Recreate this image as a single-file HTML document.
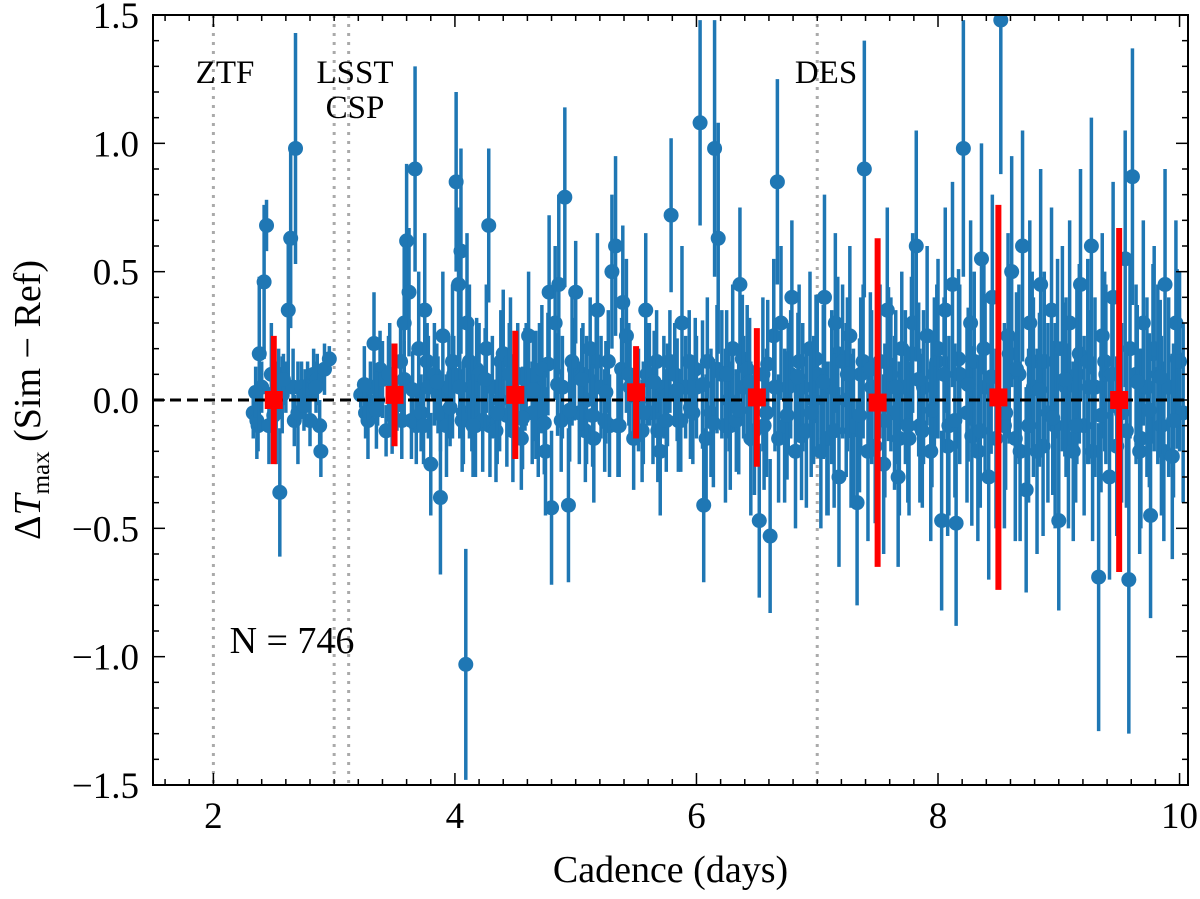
<!DOCTYPE html>
<html><head><meta charset="utf-8"><style>
body{margin:0;background:#fff;}
svg{display:block;font-family:"Liberation Serif",serif;}
</style></head><body>
<svg id="chart" width="1200" height="899"></svg>
<script>
const cadence=[2.33,2.36,2.38,2.40,2.42,2.44,2.46,2.48,2.52,2.55,2.57,2.60,2.62,2.64,2.66,2.68,2.70,2.73,2.76,2.80,2.83,2.86,2.89,2.92,2.96,
3.22,3.26,3.30,3.33,3.36,3.40,3.43,3.46,3.52,3.55,3.58,3.60,3.62,3.64,3.67,3.70,3.72,3.75,3.78,3.80,3.83,3.86,3.88,3.90,3.93,3.95,3.98,
4.01,4.03,4.05,4.07,4.09,4.10,4.12,4.14,4.17,4.20,4.23,4.26,4.28,4.31,4.34,4.37,4.40,4.43,4.46,4.52,4.55,4.58,4.61,4.64,4.67,4.70,4.72,4.75,4.78,4.80,4.83,4.86,4.89,4.91,4.94,4.97,
5.00,5.03,5.06,5.09,5.12,5.15,5.18,5.21,5.24,5.27,5.30,5.33,5.36,5.39,5.42,5.45,5.52,5.55,5.58,5.61,5.64,5.67,5.70,5.73,5.76,5.79,5.82,5.85,5.88,5.91,5.94,5.97,
6.00,6.03,6.06,6.09,6.12,6.15,6.18,6.21,6.24,6.27,6.30,6.33,6.36,6.39,6.42,6.45,6.52,6.55,6.58,6.61,6.64,6.67,6.70,6.73,6.76,6.79,6.82,6.85,6.88,6.91,6.94,6.97,
7.00,7.03,7.06,7.09,7.12,7.15,7.18,7.21,7.24,7.27,7.30,7.33,7.36,7.39,7.42,7.45,7.52,7.55,7.58,7.61,7.64,7.67,7.70,7.73,7.76,7.79,7.82,7.85,7.88,7.91,7.94,7.97,
8.00,8.03,8.06,8.09,8.12,8.15,8.18,8.21,8.24,8.27,8.30,8.33,8.36,8.39,8.42,8.45,8.52,8.55,8.58,8.61,8.64,8.67,8.70,8.73,8.76,8.79,8.82,8.85,8.88,8.91,8.94,8.97,
9.00,9.03,9.06,9.09,9.12,9.15,9.18,9.21,9.24,9.27,9.30,9.33,9.36,9.39,9.42,9.45,9.52,9.55,9.58,9.61,9.64,9.67,9.70,9.73,9.76,9.79,9.82,9.85,9.88,9.91,9.94,9.97,10.00,10.03];
const dtmax=[-0.05,-0.08,0.18,0.05,0.46,0.68,-0.1,0.1,-0.05,-0.36,0.02,0.05,0.35,0.63,0.05,0.98,-0.05,0.05,0.02,-0.08,0.1,0.08,-0.2,0.12,0.16,
0.02,-0.05,0.05,0.22,0.0,0.08,-0.12,0.1,-0.02,0.15,0.3,0.62,0.42,-0.08,0.9,0.2,-0.05,0.35,0.05,-0.25,0.1,0.02,-0.38,0.25,-0.1,0.05,0.15,
0.85,0.45,0.58,-0.05,-1.03,0.3,0.15,0.05,-0.1,0.1,-0.08,0.2,0.68,0.05,-0.12,0.0,0.18,-0.06,0.15,0.1,-0.15,0.08,0.25,-0.05,0.02,0.1,0.12,-0.2,0.42,-0.42,0.3,0.45,0.05,0.79,-0.41,0.15,
0.42,-0.05,0.1,0.0,0.2,-0.15,0.35,0.05,-0.08,0.15,0.5,0.6,-0.1,0.38,0.25,0.05,0.0,-0.12,0.35,0.1,-0.05,0.15,-0.2,0.05,0.02,0.72,0.1,-0.08,0.3,0.05,0.15,-0.05,
0.05,1.08,-0.41,0.15,-0.05,0.98,0.63,0.1,-0.1,0.0,0.2,-0.08,0.45,0.05,0.12,-0.15,-0.47,0.1,-0.05,-0.53,0.25,0.85,0.3,-0.1,0.05,0.4,-0.2,0.15,0.05,-0.12,0.2,0.0,
0.1,-0.2,0.4,-0.15,0.05,0.3,-0.3,0.15,0.0,0.25,-0.1,-0.4,0.1,0.9,-0.2,0.05,0.15,-0.25,0.35,0.1,-0.05,-0.3,0.2,0.05,-0.15,0.3,0.6,-0.1,0.05,0.25,-0.2,0.1,
0.2,-0.47,0.35,-0.1,0.45,-0.48,0.1,0.98,-0.05,0.3,0.15,-0.2,0.55,0.05,-0.3,0.4,1.48,-0.1,0.25,0.5,-0.15,0.1,0.6,-0.35,0.3,0.05,-0.2,0.45,0.15,-0.05,0.35,-0.1,
-0.47,0.2,0.05,0.3,-0.2,0.1,0.45,-0.1,0.15,0.6,0.05,-0.69,0.25,0.1,-0.3,0.4,-0.05,0.55,-0.7,0.87,0.1,-0.2,0.3,0.05,-0.45,0.2,0.1,-0.1,0.45,0.05,-0.22,0.3,0.15,-0.05];
const dterr=[0.1,0.15,0.3,0.1,0.3,0.1,0.15,0.2,0.2,0.25,0.15,0.1,0.3,0.35,0.15,0.45,0.2,0.1,0.1,0.1,0.1,0.1,0.1,0.1,0.05,
0.05,0.1,0.1,0.2,0.1,0.15,0.1,0.2,0.1,0.15,0.3,0.3,0.25,0.15,0.4,0.3,0.15,0.3,0.2,0.2,0.2,0.15,0.3,0.25,0.2,0.2,0.3,
0.35,0.3,0.4,0.2,0.45,0.35,0.3,0.25,0.2,0.2,0.2,0.25,0.3,0.2,0.2,0.2,0.25,0.2,0.25,0.2,0.2,0.2,0.25,0.2,0.25,0.2,0.25,0.25,0.3,0.3,0.3,0.35,0.2,0.35,0.3,0.25,
0.2,0.2,0.2,0.25,0.2,0.25,0.3,0.2,0.2,0.2,0.3,0.35,0.2,0.3,0.3,0.2,0.2,0.2,0.3,0.2,0.2,0.2,0.25,0.2,0.2,0.3,0.2,0.2,0.3,0.2,0.2,0.2,
0.2,0.4,0.3,0.25,0.25,0.5,0.45,0.25,0.3,0.2,0.25,0.2,0.3,0.2,0.25,0.3,0.3,0.3,0.25,0.3,0.3,0.4,0.3,0.3,0.25,0.3,0.3,0.3,0.25,0.3,0.3,0.25,
0.3,0.3,0.4,0.3,0.3,0.35,0.35,0.3,0.3,0.35,0.3,0.4,0.3,0.5,0.35,0.3,0.3,0.35,0.4,0.3,0.3,0.35,0.3,0.3,0.3,0.35,0.45,0.3,0.3,0.35,0.35,0.3,
0.35,0.35,0.4,0.35,0.4,0.4,0.35,0.5,0.35,0.4,0.35,0.35,0.45,0.35,0.4,0.4,0.6,0.4,0.4,0.45,0.4,0.35,0.45,0.4,0.4,0.35,0.4,0.45,0.35,0.35,0.4,0.4,
0.35,0.4,0.35,0.4,0.35,0.35,0.45,0.35,0.4,0.5,0.35,0.6,0.4,0.35,0.4,0.45,0.35,0.5,0.6,0.5,0.35,0.4,0.4,0.35,0.4,0.4,0.35,0.35,0.45,0.35,0.4,0.4,0.35,0.35];
const coreX=[2.35,2.5,2.58,2.75,2.85,3.25,3.35,3.45,3.56,3.65,3.74,3.85,3.96,4.04,4.15,4.25,4.35,4.45,4.56,4.65,4.74,4.85,4.95,5.05,5.14,5.25,5.35,5.44,5.56,5.65,5.75,5.84,5.95,6.05,6.14,6.25,6.35,6.44,6.56,6.65,6.75,6.84,6.95,7.05,7.14,7.25,7.35,7.44,7.56,7.65,7.75,7.84,7.95,8.05,8.14,8.25,8.35,8.44,8.56,8.65,8.75,8.84,8.95,9.05,9.14,9.25,9.35,9.44,9.56,9.65,9.75,9.84,9.95];
const coreY=[0.03,-0.06,0.08,-0.02,0.05,0.06,-0.04,0.1,-0.08,0.04,-0.1,0.07,-0.03,0.05,-0.1,0.08,-0.05,0.1,-0.07,0.04,-0.09,0.06,-0.04,0.08,-0.06,0.03,-0.1,0.1,-0.05,0.07,-0.08,0.04,-0.03,0.06,-0.09,0.1,-0.04,0.07,-0.1,0.05,-0.06,0.09,-0.05,0.07,-0.12,0.1,-0.06,0.12,-0.08,0.05,-0.1,0.08,-0.04,0.1,-0.08,0.06,-0.12,0.09,-0.05,0.12,-0.1,0.04,-0.07,0.08,-0.1,0.05,-0.06,0.1,-0.12,0.07,-0.04,0.09,-0.08];
const coreE=[0.1,0.1,0.1,0.1,0.1,0.15,0.15,0.15,0.15,0.15,0.15,0.15,0.15,0.2,0.2,0.2,0.2,0.2,0.2,0.2,0.2,0.2,0.2,0.2,0.2,0.2,0.2,0.2,0.2,0.2,0.2,0.2,0.2,0.25,0.25,0.25,0.25,0.25,0.25,0.25,0.25,0.25,0.25,0.3,0.3,0.3,0.3,0.3,0.3,0.3,0.3,0.3,0.3,0.3,0.3,0.3,0.3,0.3,0.3,0.3,0.3,0.3,0.3,0.3,0.3,0.3,0.3,0.3,0.3,0.3,0.3,0.3,0.3];
const core2X=[2.37,2.54,2.67,2.78,2.88,3.28,3.38,3.48,3.58,3.68,3.77,3.88,3.99,4.06,4.18,4.29,4.38,4.48,4.59,4.69,4.77,4.88,4.99,5.08,5.17,5.28,5.38,5.48,5.59,5.68,5.78,5.87,5.99,6.08,6.17,6.28,6.38,6.48,6.59,6.68,6.78,6.87,6.99,7.08,7.17,7.28,7.38,7.48,7.59,7.68,7.78,7.87,7.99,8.08,8.17,8.28,8.38,8.48,8.59,8.68,8.78,8.87,8.99,9.08,9.17,9.28,9.38,9.48,9.59,9.68,9.78,9.87,9.98];
const core2Y=[-0.1,0.1,-0.08,0.05,-0.1,-0.08,0.12,-0.06,0.08,-0.1,0.15,-0.05,0.1,-0.08,0.12,-0.1,0.15,-0.12,0.1,-0.1,0.14,-0.08,0.12,-0.12,0.15,-0.1,0.12,-0.15,0.1,-0.12,0.15,-0.08,0.12,-0.15,0.12,-0.1,0.16,-0.12,0.14,-0.15,0.1,-0.14,0.16,-0.15,0.18,-0.12,0.15,-0.18,0.14,-0.15,0.18,-0.12,0.15,-0.18,0.16,-0.14,0.2,-0.15,0.18,-0.2,0.15,-0.18,0.2,-0.15,0.18,-0.2,0.15,-0.18,0.2,-0.15,0.18,-0.2,0.16];
const core2E=[0.1,0.1,0.1,0.1,0.1,0.15,0.15,0.15,0.15,0.15,0.15,0.15,0.15,0.2,0.2,0.2,0.2,0.2,0.2,0.2,0.2,0.2,0.2,0.2,0.2,0.2,0.2,0.2,0.2,0.2,0.2,0.2,0.2,0.25,0.25,0.25,0.25,0.25,0.25,0.25,0.25,0.25,0.25,0.3,0.3,0.3,0.3,0.3,0.3,0.3,0.3,0.3,0.3,0.35,0.35,0.35,0.35,0.35,0.35,0.35,0.35,0.35,0.35,0.35,0.35,0.35,0.35,0.35,0.35,0.35,0.35,0.35,0.35];
const binX=[2.5,3.5,4.5,5.5,6.5,7.5,8.5,9.5];
const binY=[0.0,0.02,0.02,0.03,0.01,-0.01,0.01,0.0];
const binE=[0.25,0.2,0.25,0.18,0.27,0.64,0.75,0.67];
const xTicks=[2,4,6,8,10];
const yTicks=[-1.5,-1.0,-0.5,0.0,0.5,1.0,1.5];
const surveyLines=[2,3,3.12,7];

const NS="http://www.w3.org/2000/svg";
const svg=document.getElementById('chart');
const L=153,R=1188,T=15,B=785;
const X0=1.5,X1=10.07,Y0=-1.5,Y1=1.5;
function sx(v){return L+(v-X0)/(X1-X0)*(R-L);}
function sy(v){return B-(v-Y0)/(Y1-Y0)*(B-T);}
function mk(tag,at,parent){const e=document.createElementNS(NS,tag);for(const k in at)e.setAttribute(k,at[k]);(parent||svg).appendChild(e);return e;}
const defs=mk('clipPath',{id:'clip'});mk('rect',{x:L,y:T,width:R-L,height:B-T},defs);
const plot=mk('g',{'clip-path':'url(#clip)'});


surveyLines.forEach(v=>{
 const l=mk('line',{x1:sx(v),x2:sx(v),y1:T,y2:B,stroke:'#aaa','stroke-width':3,'stroke-dasharray':'3,6'},plot);
 
 
});
function drawPts(xs,ys,es){
 for(let i=0;i<xs.length;i++){
  const g=mk('g',{},plot);
  
  
  mk('line',{x1:sx(xs[i]),x2:sx(xs[i]),y1:sy(ys[i]-es[i]),y2:sy(ys[i]+es[i]),stroke:'#1f77b4','stroke-width':3.5},g);
  mk('circle',{cx:sx(xs[i]),cy:sy(ys[i]),r:7.5,fill:'#1f77b4'},g);
 }
}
drawPts(core2X,core2Y,core2E);
drawPts(cadence,dtmax,dterr);
drawPts(coreX,coreY,coreE);
const z=mk('line',{x1:L,x2:R,y1:sy(0),y2:sy(0),stroke:'#000','stroke-width':3,'stroke-dasharray':'11,6'},plot);


for(let i=0;i<binX.length;i++){
 const g=mk('g',{},plot);
 
 
 mk('line',{x1:sx(binX[i]),x2:sx(binX[i]),y1:sy(binY[i]-binE[i]),y2:sy(binY[i]+binE[i]),stroke:'#f00','stroke-width':6},g);
 mk('rect',{x:sx(binX[i])-9,y:sy(binY[i])-9,width:18,height:18,fill:'#f00'},g);
}
const fr=mk('rect',{x:L,y:T,width:R-L,height:B-T,fill:'none',stroke:'#000','stroke-width':2});


for(let v=1.6;v<=10.05;v+=0.2){const m=Math.abs(v/2-Math.round(v/2))<0.01;const len=m?12:6;
 mk('line',{x1:sx(v),x2:sx(v),y1:B,y2:B-len,stroke:'#000','stroke-width':1.5});
 mk('line',{x1:sx(v),x2:sx(v),y1:T,y2:T+len,stroke:'#000','stroke-width':1.5});}
for(let v=-1.5;v<=1.501;v+=0.1){const m=Math.abs(v*2-Math.round(v*2))<0.01;const len=m?12:6;
 mk('line',{x1:L,x2:L+len,y1:sy(v),y2:sy(v),stroke:'#000','stroke-width':1.5});
 mk('line',{x1:R,x2:R-len,y1:sy(v),y2:sy(v),stroke:'#000','stroke-width':1.5});}
xTicks.forEach(v=>{const t=mk('text',{x:sx(v),y:B+43,'font-size':37,'text-anchor':'middle'});t.textContent=v;
 
 });
yTicks.forEach(v=>{const t=mk('text',{x:L-14,y:sy(v)+13,'font-size':37,'text-anchor':'end'});t.textContent=(v<0?'\u2212':'')+Math.abs(v).toFixed(1);
 
 });
const xl=mk('text',{x:(L+R)/2,y:882,'font-size':38,'text-anchor':'middle'});xl.textContent='Cadence (days)';


const yl=mk('text',{x:0,y:0,'font-size':38,'text-anchor':'middle',transform:`translate(40,${(T+B)/2}) rotate(-90)`});
yl.innerHTML='\u0394<tspan font-style="italic">T</tspan><tspan font-size="25" dy="9">max</tspan><tspan dy="-9">  (Sim \u2212 Ref)</tspan>';


const labs=[["ZTF",225,83],["LSST",355,83],["CSP",355,118],["DES",826,83],["N = 746",292,653]];
labs.forEach(a=>{const t=mk('text',{x:a[1],y:a[2],'font-size':a[0].startsWith('N')?38:33,'text-anchor':'middle'});t.textContent=a[0];
 
 });
</script>
</body></html>
